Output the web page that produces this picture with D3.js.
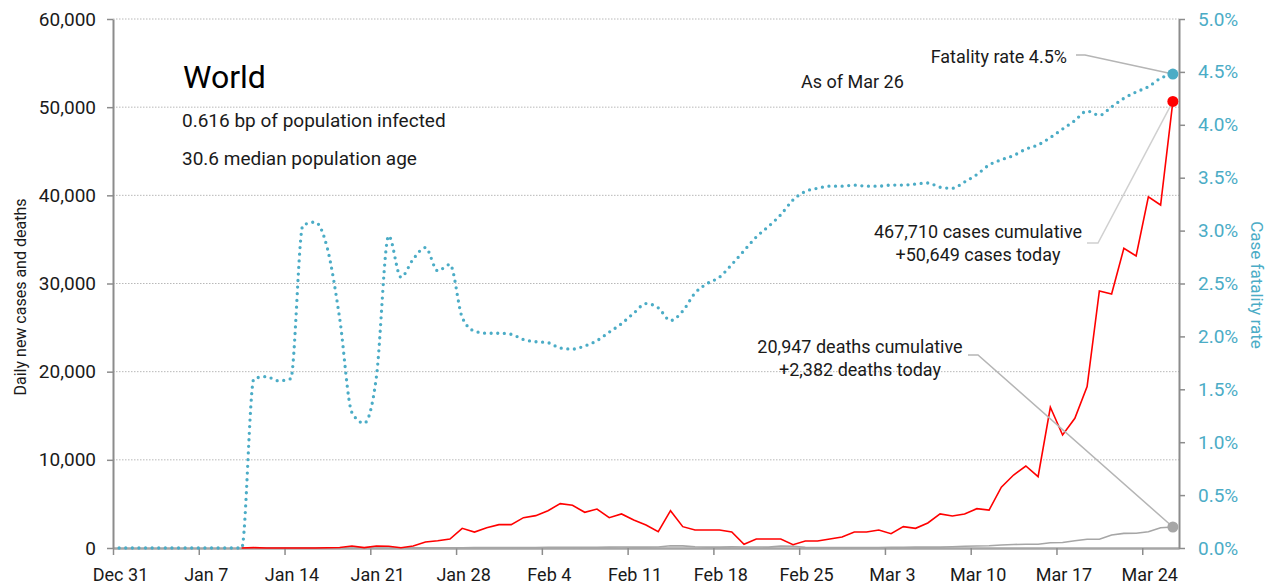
<!DOCTYPE html>
<html>
<head>
<meta charset="utf-8">
<script src="https://cdn.jsdelivr.net/npm/d3@7"></script>
<style>
  body { margin: 0; background: #fff; }
  svg text { font-family: Roboto, "Liberation Sans", sans-serif; fill: #1a1a1a; }
</style>
</head>
<body>
<svg id="chart" width="1273" height="587"></svg>
<script>
// ---- data ----
// day 0 = Dec 31 2019, one value per day up to Mar 26 2020
const firstDay = Date.UTC(2019, 11, 31);

// case fatality rate, % (right axis), days 0..86
const fatalityPct = [
  0, 0, 0, 0, 0, 0, 0, 0, 0, 0, 0,
  1.60, 1.62, 1.58, 1.60, 3.05, 3.08, 2.83, 2.17, 1.28, 1.18,
  1.62, 2.95, 2.56, 2.73, 2.84, 2.62, 2.68, 2.18, 2.05, 2.03,
  2.03, 2.02, 1.97, 1.95, 1.94, 1.89, 1.88, 1.91, 1.96, 2.04,
  2.12, 2.22, 2.31, 2.27, 2.15, 2.24, 2.41, 2.50, 2.56, 2.68,
  2.81, 2.94, 3.04, 3.15, 3.29, 3.37, 3.40, 3.42, 3.42, 3.43,
  3.42, 3.42, 3.43, 3.43, 3.44, 3.45, 3.41, 3.40, 3.46, 3.53,
  3.62, 3.67, 3.71, 3.77, 3.81, 3.88, 3.96, 4.04, 4.13, 4.09,
  4.17, 4.25, 4.31, 4.36, 4.44, 4.48
];

// daily new cases and deaths start on day 10 (Jan 10)
const seriesStart = 10;
const newCases = [
  0, 40, 0, 0, 0, 0, 0, 20, 60, 230,
  40, 230, 200, 30, 230, 680, 830, 1020, 2230, 1810,
  2300, 2650, 2650, 3440, 3670, 4230, 5030, 4840, 4050, 4420,
  3440, 3860, 3180, 2610, 1850, 4230, 2420, 2040, 2040, 2040,
  1810, 420, 1020, 1020, 1020, 380, 790, 790, 1020, 1250,
  1810, 1810, 2040, 1620, 2420, 2230, 2840, 3860, 3630, 3860,
  4460, 4300, 6900, 8280, 9300, 8090, 15960, 12820, 14710, 18300,
  29150, 28800, 33990, 33120, 39840, 38900, 50649
];
const newDeaths = [
  0, 1, 0, 0, 0, 0, 0, 0, 0, 1,
  3, 6, 8, 8, 16, 15, 24, 26, 26, 38,
  43, 46, 45, 57, 64, 66, 73, 73, 86, 89,
  97, 108, 97, 100, 120, 250, 240, 150, 100, 100,
  130, 110, 115, 100, 220, 200, 70, 50, 40, 40,
  60, 50, 50, 70, 80, 100, 100, 100, 150, 200,
  230, 250, 340, 400, 420, 430, 600, 620, 830, 990,
  1000, 1470, 1660, 1680, 1850, 2300, 2382
];

const leftTicks = [0, 10000, 20000, 30000, 40000, 50000, 60000];
const rightTicks = [0, 0.005, 0.01, 0.015, 0.02, 0.025, 0.03, 0.035, 0.04, 0.045, 0.05];
const weekLabels = ["Dec 31", "Jan 7", "Jan 14", "Jan 21", "Jan 28", "Feb 4", "Feb 11",
                    "Feb 18", "Feb 25", "Mar 3", "Mar 10", "Mar 17", "Mar 24"];

const casesTotal = "467,710", casesToday = "+50,649";
const deathsTotal = "20,947", deathsToday = "+2,382";

// ---- layout ----
const L = 113, R = 1179, T = 19, B = 548;
const dayMs = 864e5;
const cyan = "#4bacc6";
const svg = d3.select("#chart");

const x = d3.scaleUtc()
  .domain([new Date(firstDay), new Date(firstDay + 87 * dayMs)])
  .range([L, R]);
const yL = d3.scaleLinear().domain([0, 60000]).range([B, T]);
const yR = d3.scaleLinear().domain([0, 0.05]).range([B, T]);

// points sit at noon of each day
const at = i => new Date(firstDay + (i + 0.5) * dayMs);
const cfrPts = fatalityPct.map((v, i) => ({ date: at(i), v: v / 100 }));
const casePts = newCases.map((v, i) => ({ date: at(i + seriesStart), v }));
const deathPts = newDeaths.map((v, i) => ({ date: at(i + seriesStart), v }));

// gridlines
svg.append("g").selectAll("line")
  .data(leftTicks.slice(1))
  .enter().append("line")
  .attr("x1", L).attr("x2", R)
  .attr("y1", d => yL(d)).attr("y2", d => yL(d))
  .attr("stroke", "#b8b8b8").attr("stroke-width", 1)
  .attr("stroke-dasharray", "1.5 1.5");

// axes
const weekDates = weekLabels.map((d, i) => new Date(firstDay + i * 7 * dayMs));

const gx = svg.append("g").attr("transform", `translate(0,${B})`)
  .call(d3.axisBottom(x).tickValues(weekDates).tickFormat((d, i) => weekLabels[i])
    .tickSize(7).tickPadding(13).tickSizeOuter(0));
gx.select(".domain").attr("stroke", "#a6a6a6").attr("stroke-width", 2.5);
gx.selectAll(".tick line").attr("stroke", "#8c8c8c").attr("stroke-width", 1.5);
gx.selectAll("text").attr("dx", 7).style("font-size", "18px");

const gl = svg.append("g").attr("transform", `translate(${L},0)`)
  .call(d3.axisLeft(yL).tickValues(leftTicks).tickFormat(d3.format(","))
    .tickSize(6).tickPadding(11).tickSizeOuter(0));
gl.select(".domain").attr("stroke", "#8c8c8c").attr("stroke-width", 2);
gl.selectAll(".tick line").attr("stroke", "#8c8c8c").attr("stroke-width", 1.5);
gl.selectAll("text").style("font-size", "19px");

const gr = svg.append("g").attr("transform", `translate(${R},0)`)
  .call(d3.axisRight(yR).tickValues(rightTicks).tickFormat(d3.format(".1%"))
    .tickSize(6).tickPadding(13).tickSizeOuter(0));
gr.select(".domain").attr("stroke", "#8c8c8c").attr("stroke-width", 2);
gr.selectAll(".tick line").attr("stroke", "#8c8c8c").attr("stroke-width", 1.5);
gr.selectAll("text").style("font-size", "19px").style("fill", cyan);

// axis titles
svg.append("text")
  .attr("transform", "translate(26,297) rotate(-90)")
  .attr("text-anchor", "middle")
  .style("font-size", "16px")
  .text("Daily new cases and deaths");

svg.append("text")
  .attr("transform", "translate(1251,285) rotate(90)")
  .attr("text-anchor", "middle")
  .style("font-size", "17px")
  .style("fill", cyan)
  .text("Case fatality rate");

// lines
const lineL = d3.line().x(d => x(d.date)).y(d => yL(d.v));
svg.append("path").datum(deathPts)
  .attr("d", lineL).attr("fill", "none")
  .attr("stroke", "#a6a6a6").attr("stroke-width", 1.6);
svg.append("path").datum(casePts)
  .attr("d", lineL).attr("fill", "none")
  .attr("stroke", "#ff0000").attr("stroke-width", 1.6);

svg.append("path").datum(cfrPts)
  .attr("d", d3.line().x(d => x(d.date)).y(d => yR(d.v)).curve(d3.curveMonotoneX))
  .attr("fill", "none")
  .attr("stroke", cyan).attr("stroke-width", 3.3)
  .attr("stroke-linecap", "round").attr("stroke-dasharray", "0 6.6");

// end points
const lastCfr = cfrPts[cfrPts.length - 1];
const lastCase = casePts[casePts.length - 1];
const lastDeath = deathPts[deathPts.length - 1];

// leader lines
const leader = (pts, col) => svg.append("polyline")
  .attr("points", pts.map(p => p.join(",")).join(" "))
  .attr("fill", "none").attr("stroke", col).attr("stroke-width", 1.5);

leader([[1076, 55], [1085, 55], [x(lastCfr.date), yR(lastCfr.v)]], "#b5b5b5");
leader([[1087, 243], [1098, 243], [x(lastCase.date), yL(lastCase.v)]], "#d0d0d0");
leader([[968, 355], [978, 355], [x(lastDeath.date), yL(lastDeath.v)]], "#b5b5b5");

svg.append("circle").attr("cx", x(lastCfr.date)).attr("cy", yR(lastCfr.v)).attr("r", 5.5).attr("fill", cyan);
svg.append("circle").attr("cx", x(lastCase.date)).attr("cy", yL(lastCase.v)).attr("r", 5.5).attr("fill", "#ff0000");
svg.append("circle").attr("cx", x(lastDeath.date)).attr("cy", yL(lastDeath.v)).attr("r", 5.5).attr("fill", "#a6a6a6");

// titles and notes
svg.append("text").attr("x", 183).attr("y", 88).style("font-size", "32px").style("fill", "#000").text("World");
svg.append("text").attr("x", 182).attr("y", 127).style("font-size", "19px").text("0.616 bp of population infected");
svg.append("text").attr("x", 182).attr("y", 165).style("font-size", "19px").text("30.6 median population age");
svg.append("text").attr("x", 801).attr("y", 88).style("font-size", "18px").text("As of Mar 26");

svg.append("text").attr("x", 1067).attr("y", 63).attr("text-anchor", "end")
  .style("font-size", "18px").text("Fatality rate " + d3.format(".1%")(lastCfr.v));

svg.append("text").attr("x", 978).attr("y", 238).attr("text-anchor", "middle")
  .style("font-size", "18px").text(casesTotal + " cases cumulative");
svg.append("text").attr("x", 978).attr("y", 261).attr("text-anchor", "middle")
  .style("font-size", "18px").text(casesToday + " cases today");

svg.append("text").attr("x", 860).attr("y", 353).attr("text-anchor", "middle")
  .style("font-size", "18px").text(deathsTotal + " deaths cumulative");
svg.append("text").attr("x", 860).attr("y", 376).attr("text-anchor", "middle")
  .style("font-size", "18px").text(deathsToday + " deaths today");
</script>
</body>
</html>
